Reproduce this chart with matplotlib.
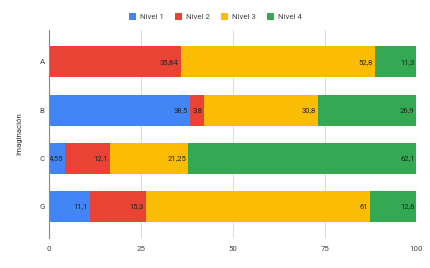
import matplotlib
matplotlib.use("Agg")
import matplotlib.pyplot as plt
from matplotlib.patches import Patch

plt.rcParams["font.family"] = ["Roboto", "DejaVu Sans"]

categories = ["A", "B", "C", "G"]
series_names = ["Nivel 1", "Nivel 2", "Nivel 3", "Nivel 4"]
nivel_1 = [0, 38.5, 4.55, 11.1]
nivel_2 = [35.84, 3.8, 12.1, 15.3]
nivel_3 = [52.8, 30.8, 21.25, 61]
nivel_4 = [11.3, 26.9, 62.1, 12.6]
x_ticks = [0, 25, 50, 75, 100]
colors = ["#4285F4", "#EA4335", "#FBBC04", "#34A853"]

series = [nivel_1, nivel_2, nivel_3, nivel_4]

fig = plt.figure(figsize=(4.3, 2.68), dpi=100)
ax = fig.add_axes([0.1133, 0.112, 0.8553, 0.776])

ypos = list(range(len(categories)))
left = [0.0] * len(categories)
for vals, color in zip(series, colors):
    ax.barh(ypos, vals, left=left, height=0.64, color=color, zorder=2)
    for y, l, v in zip(ypos, left, vals):
        if v > 0:
            txt = f"{v:g}".replace(".", ",")
            ax.annotate(txt, xy=(l + v, y), xytext=(-1.5, 0), textcoords="offset points",
                        ha="right", va="center", fontsize=5.5, color="#222222", zorder=3)
    left = [a + b for a, b in zip(left, vals)]

ax.set_xlim(0, 100)
ax.set_ylim(3.65, -0.66)
ax.set_yticks(ypos)
ax.set_yticklabels(categories)
ax.set_xticks(x_ticks)
ax.tick_params(axis="y", length=0, labelsize=5.7, colors="#444444", pad=3)
ax.tick_params(axis="x", length=0, labelsize=5.7, colors="#444444", pad=6)
ax.grid(axis="x", color="#dddddd", linewidth=0.8, zorder=0)
for side in ["top", "right", "bottom"]:
    ax.spines[side].set_visible(False)
ax.spines["left"].set_color("#888888")
ax.spines["left"].set_linewidth(0.8)
ax.spines["left"].set_zorder(4)

ax.set_ylabel("Imaginación", fontsize=5.7, color="#333333", labelpad=12)

handles = [Patch(facecolor=c, edgecolor="none") for c in colors]
fig.legend(handles, series_names, loc="center", bbox_to_anchor=(0.5, 0.937), ncol=4,
           frameon=False, fontsize=5.7, handlelength=0.9, handleheight=0.9,
           handletextpad=0.5, columnspacing=1.4, labelcolor="#444444")

fig.savefig("out.png", dpi=100)
